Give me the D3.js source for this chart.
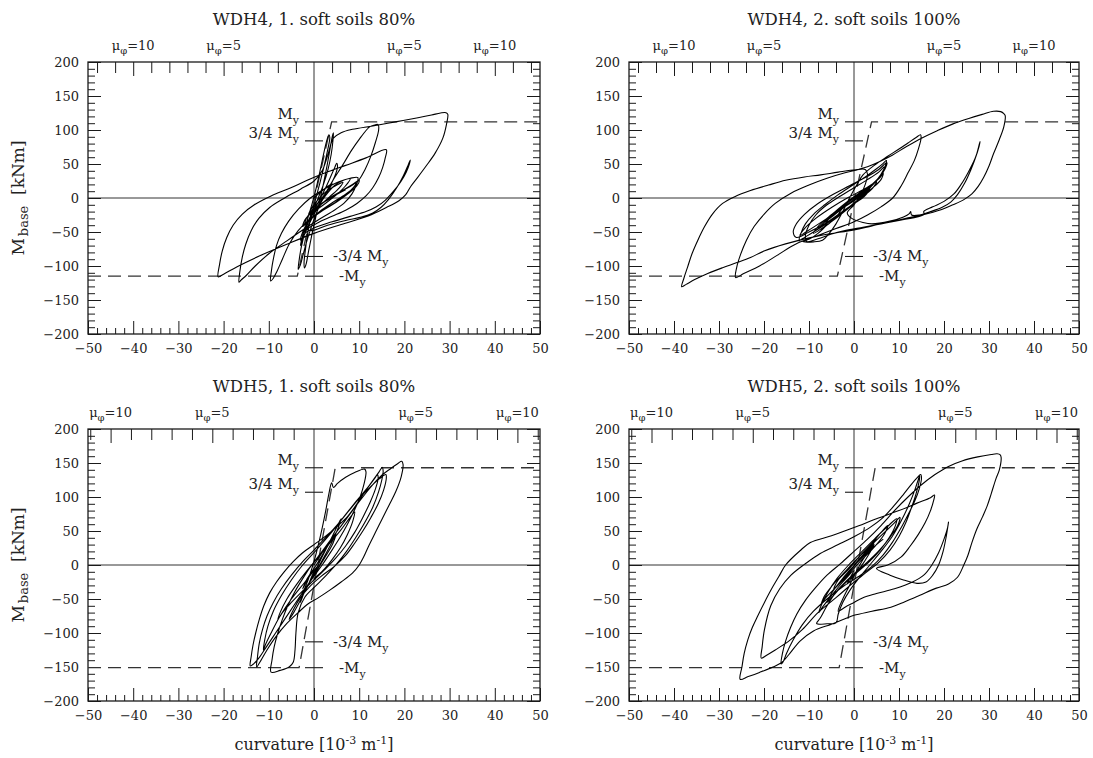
<!DOCTYPE html>
<html><head><meta charset="utf-8">
<script src="https://cdn.jsdelivr.net/npm/d3@7"></script>
<style>
body{margin:0;background:#fff}
svg{display:block}
text{font-family:"DejaVu Serif","Liberation Serif",serif;fill:#222}
</style>
</head><body>
<svg id="c" width="1093" height="758"></svg>
<script>
// ---------------- data ----------------
const panelTitles = ["WDH4, 1. soft soils 80%","WDH4, 2. soft soils 100%","WDH5, 1. soft soils 80%","WDH5, 2. soft soils 100%"];
const xTickValues = [-50,-40,-30,-20,-10,0,10,20,30,40,50];
const yTickValues = [-200,-150,-100,-50,0,50,100,150,200];
const muLabelValues = [-10,-5,5,10];
const yieldCurvature = [4,4,4.5,4.5];          // phi_y [1e-3/m]
const yieldMomentsWDH4 = [112,84,-86,-115];     // My, 3/4My, -3/4My, -My
const yieldMomentsWDH5 = [143,107,-113,-151];
const yieldLabels = ["M|y","3/4 M|y","-3/4 M|y","-M|y"];
const bilinearWDH4 = [[-50,-115],[-3.7,-115],[3.9,112],[50,112]];
const bilinearWDH5 = [[-50,-151],[-3.3,-151],[4.7,143],[50,143]];

const wdh4Run1 = [
[0,0],[1.5,9],[3,17],[4,21],[3.2,12],[1.5,-2],[0,-14],[-1.2,-24],[-0.6,-16],[0.8,-3],[2.6,9],[4.8,18],[6.4,23],[5.6,15],[3.5,2],[1.5,-10],[-0.3,-24],[-1.6,-36],[-1.2,-26],
[-0.4,-8],[0.6,18],[1.5,45],[2.3,70],[2.9,86],[3.3,93],[3.5,89],[3.0,70],[2.2,46],[1.3,22],[0.3,-3],[-0.7,-28],[-1.4,-52],[-1.9,-76],[-2.2,-95],[-2.1,-103],[-1.7,-96],[-1.2,-78],[-0.4,-52],[0.6,-22],[1.8,12],[2.9,48],[3.7,78],[4.1,92],[4.3,96],[4.2,85],[3.8,64],[3.1,42],[2.1,20],[0.8,-2],[-0.6,-24],[-1.9,-48],[-2.8,-72],[-3.3,-92],[-3.5,-105],[-3.0,-98],[-2.2,-78],
[-1.2,-55],[0.2,-28],[2,0],[4,24],[6.3,48],[8.3,70],[10.2,88],[11.6,100],[12.4,105],[13.2,107],[14.2,108],[14.3,100],[13.6,82],[12.6,62],[11.3,42],[9.8,25],[7.8,9],[5,-5],[2,-18],[-1,-31],[-3.5,-48],[-5.5,-68],[-7,-90],[-8.2,-108],[-9,-118],[-9.6,-122],
[-9.4,-106],[-9,-90],[-8.3,-70],[-7.2,-52],[-5.6,-34],[-3.4,-16],[-0.8,0],[2.5,14],[5.5,24],[8,29],[9.7,30],[9.4,20],[8.4,6],[6.6,-8],[4,-20],[1,-32],[-2.5,-47],[-6,-63],[-10,-82],[-13,-100],[-15,-114],[-16.2,-121],[-16.6,-124],
[-16.4,-108],[-15.9,-88],[-15.1,-68],[-13.9,-48],[-12.2,-30],[-9.8,-14],[-6.5,0],[-3,13],[0,25],[1.8,40],[3,62],[4.3,88],[6,96],[8.5,101],[13,106],[18,112],[23,118],[26,122],[28,125],[29.2,125.5],[29.6,123],
[29.3,108],[28.5,88],[26.8,66],[24.8,47],[22.9,30],[21.4,17],[20.3,5],[18.8,-4],[16,-14],[12,-26.5],[6,-39],[0,-52],[-6,-68],[-12,-85],[-17,-101],[-20,-112],[-21.2,-116],
[-20.9,-98],[-20.3,-78],[-19.3,-58],[-17.9,-40],[-15.9,-24],[-13.2,-10],[-9.5,3],[-5.5,14],[-1.5,26],[2.5,37],[7,48],[11.5,59],[16,71],
[15.8,60],[15.2,45],[14.3,30],[13,15],[11.5,3],[9.5,-8],[7,-18],[4,-27],[1,-36],[-1.5,-46],[-0.5,-48],
[3,-40],[7,-33],[10.5,-28],[13,-22],[14.8,-14],[16.5,-2],[18.3,15],[19.8,33],[20.8,48],[21.3,56],[21.1,50],[20.4,38],[19.2,24],[17.6,10],[15.8,-3],[13.8,-13],[11.5,-20],[8,-27],[4,-35],[0,-44],[-2,-52],[-3,-62],
[-2.5,-50],[-1,-30],[0.8,-8],[2.5,14],[3.8,33],[4.6,45],[5,51],[5.2,46],[4.6,32],[3.4,16],[1.8,-2],[0,-20],[-1.5,-38],[-2.5,-55],[-3,-70],[-2.5,-60],[-1.2,-40],[0.5,-18],[2.5,3],[4.5,18],[6.5,26],[8,28],[7,18],[5,5],[2.5,-8],[0,-20],[-1,-25],
[1,-12],[3.5,0],[6,10],[8.5,20],[10,26],[9.5,18],[7.5,6],[5,-6],[2,-18],[-0.5,-30],[-2,-38],[-1.5,-28],[0.5,-14],[3,-2],[5.5,8],[8,17],[9.3,22],[8.6,14],[6.4,3],[3.8,-8],[1.2,-20],[-1,-32],[-2.5,-42],[-2,-32],[0,-18],[2.5,-5],[5,5],[7,12]
];

const wdh4Run2 = [
[0,0],[2,8],[3.5,14],[2.5,6],[0,-8],[-2,-18],[-3.5,-25],[-2.5,-15],[0,-2],[2,10],[4,20],[3,10],[0.5,-5],[-2.5,-20],[-5,-32],[-6.5,-40],[-5.5,-30],[-3,-15],[0,0],[3,14],[5,24],[4.2,15],[2,2],[-1,-14],[-4,-30],[-7,-44],[-9,-52],[-8,-42],[-5.5,-27],[-2.5,-12],[0.5,4],[3.5,18],[5.5,28],[6.5,36],[6,27],[4,14],[1,-2],[-2,-18],[-5.5,-35],[-9,-50],[-11.5,-60],[-12.2,-63],
[-11.8,-52],[-10.8,-38],[-9,-24],[-6.5,-10],[-3.5,5],[-0.5,18],[2.5,31],[5,43],[6.5,51],[7.2,55],[7,48],[6,35],[4.5,22],[2.5,8],[0,-8],[-3,-24],[-6,-40],[-8,-52],[-9.8,-60],[-11.4,-64],[-9,-64.5],[-7,-62],[-5.5,-52],
[-4,-38],[-2.5,-20],[-1,0],[0.5,18],[2,34],[4.5,48],[7.4,61],[10,72],[12,81],[13.8,89],[14.8,93],[14.9,88],[14.3,72],[13.4,55],[12,37],[10.5,18],[8.6,0],[6,-13],[3,-25],[0,-35],[-4,-45],[-8,-55],[-13,-68],[-17,-84],[-21,-100],[-24.5,-111],[-26.3,-117],
[-26.1,-103],[-25.2,-83],[-23.9,-62],[-22.2,-42],[-20,-24],[-17.5,-8],[-14,7],[-10,19],[-6,29],[-2,37],[1,42],[3,46],
[5.5,53],[8.5,63],[11.5,75],[15,88],[18.5,99],[22,109],[25.5,117],[28.5,123],[31,127.5],[32.6,127],[33.3,124],[33.6,121],
[33.3,105],[32.3,86],[31,65],[30,47],[28.8,30],[27.6,17],[26.2,6],[24.5,-2],[22,-10],[19.5,-17],[15.2,-25],[12,-29],[8.2,-35],[4,-41],[0,-47],[-7.4,-55],[-15.2,-67.5],[-20,-78],[-23,-87.5],[-26,-95],[-29.2,-102.5],[-32.5,-111],[-35.4,-120],[-37.3,-127],[-38.3,-130.5],
[-37.8,-118],[-37,-102],[-36,-82],[-34.7,-62],[-33.2,-42],[-31.5,-24],[-29.2,-8],[-26.5,2],[-23,11],[-19,19],[-15.2,26],[-11,31],[-7.4,34],[-3.5,38],[0.4,41.5],[2.5,42],
[3,35],[2.5,20],[1.5,5],[0,-10],[-1.5,-22],[-0.5,-30],[2,-36],
[4,-38],[8,-34],[11,-28],[12.3,-23],[12.6,-20],[12.8,-25],[14.5,-25],[17,-20],[19.5,-14],[21.5,-6],[23,5],[24.6,22],[26,42],[27.2,63],[28,83],[27.8,76],[26.9,58],[25.4,38],[23.8,20],[22.2,6],[20,-5],[17.5,-13],[15.5,-20],[15.6,-24],[14.5,-27],
[10,-33],[6,-38],[2,-43],[-2,-48],[-5,-53],[-8,-60],[-10.5,-64],
[-10.8,-55],[-10,-40],[-8.5,-25],[-6,-10],[-3,3],[0,15],[3,27],[5.5,38],[6.8,46],[6.5,38],[5,25],[3,12],[0.5,-2],[-2.5,-15],[-5,-28],[-7,-38],[-8,-45],[-7,-38],[-4.5,-22],[-2,-8],[0.5,4],[2.5,12],[3,8],[1.5,-2],[0,-8],
[-3,-22],[-6.5,-38],[-10,-50],[-12.8,-58],[-13.5,-50],[-12.8,-38],[-11,-24],[-8,-8],[-4.5,6],[-1,18],[2.5,30],[5.5,42],[7.3,52],[7,44],[5.5,30],[3.2,15],[0.5,0],[-2.5,-14],[-6,-30],[-9.5,-45],[-12,-55],[-11,-45],[-8.5,-30],[-5,-14],[-1.5,0],[2,12],[4,20]
];

const wdh5Run1 = [
[0,0],[1.5,15],[2.8,28],[2,15],[0,-5],[-1.5,-22],[-2.5,-35],[-1.5,-20],[0.5,0],[2.5,22],[4,38],[4.8,45],[4.2,32],[2.5,12],[0,-15],[-2,-38],[-3,-55],[-2.5,-42],
[-1.2,-20],[0.2,10],[1.5,45],[2.6,80],[3.3,105],[3.9,121],[4.3,114],[5.2,120],[7,129],[9,136],[11.2,141],[11.5,137],[11.1,120],[10.2,100],[8.9,80],[7.4,60],[5.7,40],[3.8,20],[1.8,0],[-0.4,-20],[-2.5,-40],[-4.5,-60],[-6.5,-80],[-8.5,-100],[-10.5,-120],[-12,-135],[-13.3,-145],[-14.1,-148.5],
[-13.9,-135],[-13.5,-118],[-12.9,-100],[-12.1,-80],[-11.1,-60],[-9.8,-41],[-8.3,-25],[-6.6,-10],[-4.6,5],[-2.5,18],[0,30],[2.5,42],[5,56],[7.5,72],[9.5,90],[11.5,110],[13.2,126],[14.4,137],[15.1,143.5],[15.3,138],[15,125],[14.3,108],[13,85],[11.2,62],[9.2,40],[7.2,20],[5.2,3],[3,-13],[0.5,-30],[-2,-47],[-3.5,-70],[-4,-100],[-4.2,-125],[-4.6,-143],[-5.5,-150],[-7.5,-155],[-9.5,-157.5],
[-9.3,-140],[-8.8,-120],[-8,-100],[-7,-80],[-5.8,-60],[-4.3,-40],[-2.5,-20],[-0.5,0],[1.8,20],[4,40],[6.3,60],[8.5,80],[10.8,100],[13,118],[15,132],[17,142],[18.5,149],[19.4,152.5],[19.7,148],
[19.3,130],[18.1,108],[16.6,88],[15.1,68],[13.6,48],[12.1,28],[11,12],[10,0],[8.5,-12],[6,-25],[3.5,-37],[1,-48],[-1.5,-58],[-3.5,-70],[-6,-86],[-8.5,-106],[-10.5,-126],[-11.8,-141],[-12.7,-150],
[-12.5,-135],[-12.1,-115],[-11.4,-95],[-10.4,-75],[-9,-55],[-7.2,-35],[-5,-15],[-2.5,5],[0,22],[2.5,40],[5,58],[7.5,78],[10,98],[12.5,115],[14.5,127],[15.9,133],[16,128],[15.4,110],[14.2,90],[12.6,70],[10.8,50],[9,32],[7,14],[4.5,-2],[1.5,-17],[-1,-32],[-3,-48],[-4.5,-65],[-5.5,-80],
[-4.5,-70],[-3,-52],[-1.5,-32],[0,-12],[1.5,8],[3,28],[4.5,48],[5.5,62],[6,68],[5.2,52],[4,34],[2.5,15],[1,-3],[-0.5,-20],[-1.5,-33],[-1,-25],[0,-10],[1,0],
[-2,-25],[-5,-50],[-7.5,-75],[-9.5,-100],[-10.8,-118],[-11.2,-125],[-10.9,-110],[-10.2,-90],[-9,-68],[-7.2,-45],[-5,-22],[-2.5,0],[0.5,22],[3.5,45],[6.5,70],[9.5,95],[12,115],[13.5,128],[14,133],[14.2,128],[13.6,112],[12.4,92],[10.8,70],[9,48],[7,28],[4.8,10],[2.5,-6],[0,-22],[-2.5,-38],[-5,-55],[-7,-70],[-8,-80],[-7.5,-70],[-6,-50],[-4,-30],[-1.5,-8],[1,12],[3.5,32],[6,52],[8,70],[9,78],[8.6,65],[7.4,45],[5.8,25],[4,8],[2,-8],[0,-20]
];

const wdh5Run2 = [
[0,0],[2,15],[4,30],[5,40],[4,28],[1.5,10],[-1,-10],[-3,-25],[-4.5,-35],[-3.5,-22],[-1,-5],[1.5,15],[4,32],[6,48],[7.5,58],[6.8,46],[4.6,27],[1.5,6],[-1.5,-16],[-4.5,-36],[-6.5,-50],[-7.3,-58],[-6.6,-46],[-4.8,-30],[-2.3,-12],[0.5,8],[3.5,27],[6.3,45],[8.7,60],[10.2,70],[9.7,58],[7.9,40],[5.4,20],[2.4,1],[-1,-19],[-4,-40],[-6,-60],[-7.5,-78],[-8.3,-86],[-6,-86.5],[-4,-85],
[-3.5,-72],[-2.5,-55],[-1,-38],[1,-20],[3.5,0],[6,20],[8.5,42],[10.5,65],[12.3,90],[13.6,112],[14.3,126],[14.6,131],[14.5,124],[13.8,105],[12.8,85],[11.5,62],[10,42],[8,22],[5.5,4],[2.5,-12],[-0.5,-28],[-4,-48],[-8,-70],[-11.5,-95],[-14.5,-112],[-17.5,-125],[-19.5,-133],[-20.6,-137],
[-20.4,-120],[-19.9,-95],[-18.5,-60],[-16.5,-35],[-14,-15],[-11,1],[-7.5,17],[-3.5,30],[0.4,43],[3.5,55],[6.5,70],[9,88],[11,104],[12.8,119],[14,128],[14.8,133],[15,128],[14.5,112],[13.5,94],[12,74],[10.4,54],[8.6,34],[6.5,15],[4,-2],[1,-17],[-2.5,-32],[-6,-50],[-9,-68],[-11.5,-88],[-13.5,-110],[-15,-130],[-15.8,-143],[-16.2,-145.5],
[-15.9,-130],[-15.2,-112],[-14.1,-92],[-12.7,-72],[-10.8,-52],[-8.5,-33],[-6,-15],[-3,2],[0,20],[3,38],[6,58],[9,80],[12,100],[15,118],[18,133],[21,145],[24,153],[27.5,159],[30.5,162.5],[31.8,163.5],[32.5,162],[32.7,158],
[32.3,140],[31.5,126],[30.5,105],[29.6,87],[28.5,70],[27.3,53],[26.2,33],[25.3,14],[24.4,0],[23,-18],[21,-28],[18.3,-34],[14.5,-45],[11.3,-54],[8.2,-62],[4,-68],[0,-74],[-2,-79],[-5,-87],[-9,-97],[-12,-112],[-14.5,-132],[-16,-143],[-18,-150],[-21,-158],[-23.5,-164],[-25.3,-168],
[-24.9,-150],[-24.4,-130],[-23.6,-110],[-22.6,-92],[-21.4,-75],[-19.9,-55],[-18.3,-35],[-16.7,-17],[-15.2,0],[-12,21],[-9.7,33],[-5,43],[0,55],[5,68],[10,80],[14,91],[17,99],[17.9,103],
[17.7,95],[17,80],[15.8,62],[14.3,45],[12.5,28],[10.5,12],[7.5,0],[5,-5],[8,-15],[11,-22],[14,-27],[16,-25],[17.5,-15],[18.8,0],[19.8,20],[20.5,42],[21,63],[20.8,55],[20,38],[18.8,18],[17.3,0],[15.5,-15],[13,-25],[9,-35],[5,-42],[2,-48],[0,-55],[-2,-62],[-3.5,-68],
[-2.5,-50],[-1,-30],[0.5,-10],[2,8],[3.5,22],[4.5,30],[3.5,18],[2,2],[0,-15],[-1.5,-28],[-1,-20],[0,-8],
[-2.5,-25],[-5,-45],[-7,-62],[-7.8,-70],[-7.2,-58],[-5.8,-40],[-3.8,-20],[-1.2,0],[1.8,20],[4.8,40],[7.5,57],[9.5,68],[9.2,58],[7.8,40],[5.8,22],[3.4,5],[0.5,-12],[-2.5,-30],[-5,-48],[-6,-55],[-5.2,-44],[-3.5,-28],[-1,-8],[2,12],[5,30],[6.5,38]
];

const runs = [wdh4Run1, wdh4Run2, wdh5Run1, wdh5Run2];
const bilinear = [bilinearWDH4, bilinearWDH4, bilinearWDH5, bilinearWDH5];
const yieldMoments = [yieldMomentsWDH4, yieldMomentsWDH4, yieldMomentsWDH5, yieldMomentsWDH5];

// ---------------- layout ----------------
const layout = [
  {l:88, r:540, t:62, b:334, yTitle:true,  xTitle:false},
  {l:629,r:1079,t:62, b:334, yTitle:false, xTitle:false},
  {l:88, r:540, t:429,b:701, yTitle:true,  xTitle:true},
  {l:629,r:1079,t:429,b:701, yTitle:false, xTitle:true}
];
const INK = "#1a1a1a";
const svg = d3.select("#c");

function richText(sel, str, size, subSize){
  const parts = str.split("|");
  sel.append("tspan").text(parts[0]).attr("font-size", size);
  if(parts[1]) sel.append("tspan").text(parts[1]).attr("font-size", subSize).attr("dy", 5);
}

layout.forEach((L, i) => {
  const x = d3.scaleLinear().domain([-50,50]).range([L.l, L.r]);
  const y = d3.scaleLinear().domain([-200,200]).range([L.b, L.t]);
  const g = svg.append("g");

  // zero lines
  g.append("line").attr("x1",L.l).attr("x2",L.r).attr("y1",y(0)).attr("y2",y(0)).attr("stroke","#333").attr("stroke-width",1);
  g.append("line").attr("x1",x(0)).attr("x2",x(0)).attr("y1",L.t).attr("y2",L.b).attr("stroke","#333").attr("stroke-width",1);

  const minorX = d3.range(-48,50,2).filter(v => v % 10 !== 0);
  const minorY = d3.range(-190,200,10).filter(v => v % 50 !== 0);
  const styleAxis = a => { a.select(".domain").remove(); a.selectAll("line").attr("stroke",INK).attr("stroke-width",1); a.selectAll("text").attr("font-size",13).attr("fill",INK).attr("font-family",'"DejaVu Serif",serif'); };

  g.append("g").attr("transform",`translate(0,${L.b})`)
    .call(d3.axisBottom(x).tickValues(xTickValues).tickSize(-13).tickPadding(10).tickFormat(d3.format("d"))).call(styleAxis);
  g.append("g").attr("transform",`translate(0,${L.b})`)
    .call(d3.axisBottom(x).tickValues(minorX).tickSize(-6).tickFormat("")).call(styleAxis);
  g.append("g").attr("transform",`translate(${L.l},0)`)
    .call(d3.axisLeft(y).tickValues(yTickValues).tickSize(-13).tickPadding(9).tickFormat(d3.format("d"))).call(styleAxis);
  g.append("g").attr("transform",`translate(${L.l},0)`)
    .call(d3.axisLeft(y).tickValues(minorY).tickSize(-7).tickFormat("")).call(styleAxis);
  g.append("g").attr("transform",`translate(${L.r},0)`)
    .call(d3.axisRight(y).tickValues(yTickValues).tickSize(-13).tickFormat("")).call(styleAxis);
  g.append("g").attr("transform",`translate(${L.r},0)`)
    .call(d3.axisRight(y).tickValues(minorY).tickSize(-7).tickFormat("")).call(styleAxis);

  // top ductility axis
  const phi = yieldCurvature[i];
  const muTicks = d3.range(-12,13).filter(m => m !== 0 && Math.abs(m*phi) < 50);
  const muMajor = muTicks.filter(m => Math.abs(m) % 5 === 0);
  const muMinor = muTicks.filter(m => Math.abs(m) % 5 !== 0);
  g.append("g").attr("transform",`translate(0,${L.t})`)
    .call(d3.axisTop(x).tickValues(muMinor.map(m=>m*phi)).tickSize(-11).tickFormat("")).call(styleAxis);
  g.append("g").attr("transform",`translate(0,${L.t})`)
    .call(d3.axisTop(x).tickValues(muMajor.map(m=>m*phi)).tickSize(-14).tickFormat("")).call(styleAxis);
  muLabelValues.forEach(m => {
    const t = g.append("text").attr("x", x(m*phi)).attr("y", L.t-12)
      .attr("text-anchor","middle").attr("font-size",13).attr("opacity",0.99).style("fill","#222");
    t.append("tspan").text("\u03bc");
    t.append("tspan").text("\u03c6").attr("font-size",10).attr("dy",4).style("fill","#222");
    t.append("tspan").text("=" + Math.abs(m)).attr("dy",-4);
  });

  // border
  g.append("rect").attr("x",L.l).attr("y",L.t).attr("width",L.r-L.l).attr("height",L.b-L.t)
    .attr("fill","none").attr("stroke",INK).attr("stroke-width",1.3);

  // bilinear idealisation
  const line = d3.line().x(d=>x(d[0])).y(d=>y(d[1]));
  g.append("path").datum(bilinear[i]).attr("d",line).attr("fill","none")
    .attr("stroke","#333").attr("stroke-width",1.3).attr("stroke-dasharray","13,7");

  // hysteresis
  const curve = d3.line().x(d=>x(d[0])).y(d=>y(d[1])).curve(d3.curveCatmullRom.alpha(0.5));
  g.append("path").datum(runs[i]).attr("d",curve).attr("fill","none")
    .attr("stroke","#000").attr("stroke-width",1.1).attr("stroke-linejoin","round");

  // yield markers
  yieldMoments[i].forEach((mv, k) => {
    const yy = y(mv);
    g.append("line").attr("x1",x(0)-9).attr("x2",x(0)+9).attr("y1",yy).attr("y2",yy).attr("stroke",INK).attr("stroke-width",1.1);
    const t = g.append("text").attr("font-size",15);
    if(mv > 0){
      t.attr("x", x(0)-15).attr("y", yy-3).attr("text-anchor","end");
    } else {
      t.attr("x", x(0) + (k===2 ? 19 : 25)).attr("y", yy+5).attr("text-anchor","start");
    }
    richText(t, yieldLabels[k], 15, 11);
  });

  // title
  g.append("text").attr("x",(L.l+L.r)/2).attr("y",L.t-37).attr("text-anchor","middle")
    .attr("font-size",16.5).text(panelTitles[i]);

  if(L.yTitle){
    const t = g.append("text").attr("transform",`translate(24,${(L.t+L.b)/2}) rotate(-90)`)
      .attr("text-anchor","middle").attr("font-size",17);
    t.append("tspan").text("M");
    t.append("tspan").text("base").attr("font-size",13).attr("dy",4).attr("dx",2);
    t.append("tspan").text("\u00a0\u00a0[kNm]").attr("dy",-4);
  }
  if(L.xTitle){
    const t = g.append("text").attr("x",(L.l+L.r)/2).attr("y",L.b+49).attr("text-anchor","middle").attr("font-size",16);
    t.append("tspan").text("curvature [10");
    t.append("tspan").text("-3").attr("font-size",11).attr("dy",-6);
    t.append("tspan").text(" m").attr("dy",6);
    t.append("tspan").text("-1").attr("font-size",11).attr("dy",-6);
    t.append("tspan").text("]").attr("dy",6);
  }
});
</script>
</body></html>
